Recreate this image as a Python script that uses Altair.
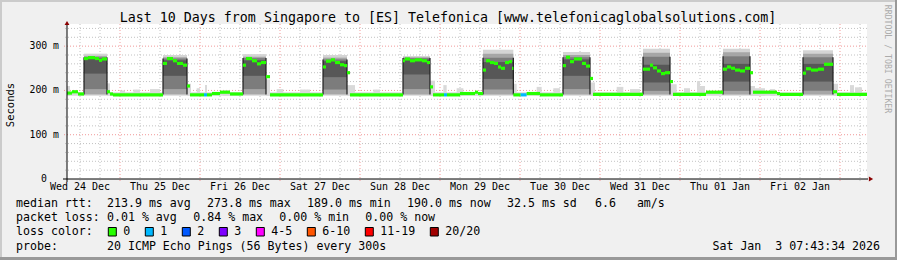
import altair as alt
import pandas as pd

MONO = "DejaVu Sans Mono"
NB = "\u00a0"

# ---------------- data ----------------
T_START, T_END = 8.1, 248.1          # hours since Wed 24 Dec 00:00
Y_MAX = 350                           # milliseconds

DAY_LABELS = ["Wed 24 Dec", "Thu 25 Dec", "Fri 26 Dec", "Sat 27 Dec", "Sun 28 Dec",
              "Mon 29 Dec", "Tue 30 Dec", "Wed 31 Dec", "Thu 01 Jan", "Fri 02 Jan"]
LABEL_HOURS = [12, 36, 60, 84, 108, 132, 156, 180, 204, 228]
MAJOR_X = [24, 48, 72, 96, 120, 144, 168, 192, 216, 240]
MINOR_X = [12, 18, 30, 36, 42, 54, 60, 66, 78, 84, 90, 102, 108, 114, 126, 132, 138,
           150, 156, 162, 174, 180, 186, 198, 204, 210, 222, 228, 234, 246]
MAJOR_Y = [100, 200, 300]
MINOR_Y = [20, 40, 60, 80, 120, 140, 160, 180, 220, 240, 260, 280, 320, 340]
Y_TICKS = [0, 100, 200, 300]
Y_TICK_LABELS = ["0", "100 m", "200 m", "300 m"]

# median rtt (step segments: start hour, value in ms)
MED_START = [8.1, 9.6, 11.4, 13.2, 14.4, 16.5, 17.7, 18.6, 20.1, 21.0, 21.9,
             36.9, 38.1, 39.9, 41.1, 42.9, 44.1, 45.0, 49.2, 50.1, 51.6, 54.0, 57.0,
             60.9, 61.8, 63.6, 65.1, 66.3, 67.8, 69.0,
             84.9, 85.8, 87.3, 88.5, 90.0, 91.2, 92.1, 93.0,
             108.9, 109.5, 111.0, 112.5, 114.6, 116.1, 117.0, 117.9, 121.2, 122.1, 126.0, 130.5, 131.4,
             132.9, 133.8, 135.0, 136.2, 137.4, 138.3, 139.5, 140.7, 141.6, 142.0, 144.2, 146.0, 150.0,
             156.9, 157.8, 159.0, 160.2, 162.6, 163.8, 165.0, 165.9,
             180.9, 183.0, 183.9, 185.1, 186.3, 187.5, 189.0, 189.9,
             199.8, 204.9, 206.1, 207.3, 208.5, 210.0, 211.5, 213.0, 213.9, 221.1, 222.0,
             228.9, 229.8, 231.3, 233.4, 235.2, 237.9, 239.1]
MED_VALUE = [194, 197, 192, 272, 274, 272, 268, 271, 197, 192, 190,
             261, 272, 267, 261, 257, 210, 190, 190, 190, 193, 196, 192,
             257, 272, 267, 260, 263, 231, 190,
             253, 266, 269, 263, 258, 256, 240, 190,
             267, 271, 267, 269, 267, 263, 208, 190, 190, 190, 193, 196, 193,
             246, 267, 263, 261, 253, 250, 263, 265, 250, 190, 190, 193, 190,
             256, 275, 265, 271, 261, 255, 227, 191,
             248, 257, 251, 244, 238, 240, 220, 191,
             196, 248, 253, 250, 246, 244, 250, 240, 196, 193, 191,
             239, 249, 246, 248, 259, 197, 191]
LOSS1_STARTS = [49.2, 121.2, 144.2]   # segments with 1 lost ping

# smoke during the daily high periods
BLOCK_START = [13.2, 36.9, 60.9, 84.9, 108.9, 132.9, 156.9, 180.9, 204.9, 228.9]
BLOCK_END = [20.1, 44.1, 67.8, 92.1, 117.0, 142.0, 165.0, 189.0, 213.0, 237.9]
BLOCK_MAX = [283, 280, 282, 280, 278, 292, 287, 294, 294, 291]
BLOCK_Q90 = [278, 275, 276, 274, 275, 283, 280, 285, 286, 283]
BLOCK_Q75 = [275, 272, 273, 270, 273, 274, 275, 276, 277, 275]
BLOCK_Q60 = [272, 268, 268, 266, 270, 264, 270, 258, 260, 260]
BLOCK_Q25 = [238, 233, 233, 230, 236, 226, 233, 218, 220, 220]
BLOCK_Q10 = [203, 203, 203, 202, 203, 202, 203, 199, 199, 199]
BLOCK_MIN = [191, 191, 191, 191, 191, 191, 191, 191, 191, 191]

# light smoke during the low periods
LOW_START = [8.1, 8.1, 20.1, 24.0, 28.0, 33.0, 44.1, 47.0, 49.5, 55.0, 67.8, 71.0, 78.0,
             92.1, 100.0, 117.0, 121.0, 125.0, 142.0, 149.0, 154.0, 165.0, 173.0, 177.0,
             189.0, 193.2, 197.1, 198.0, 213.0, 214.5, 219.0, 237.9, 243.0, 244.5]
LOW_END = [248.1, 9.0, 21.0, 25.5, 30.0, 36.0, 45.3, 48.0, 50.1, 57.0, 69.0, 73.0, 81.0,
           94.5, 102.0, 118.5, 122.0, 127.0, 143.0, 150.5, 156.0, 166.5, 175.0, 180.0,
           191.0, 195.0, 198.0, 199.5, 214.5, 217.5, 220.5, 239.4, 244.2, 246.6]
LOW_TOP = [196, 210, 216, 200, 202, 203, 215, 205, 212, 200, 225, 203, 202,
           212, 202, 222, 212, 205, 215, 208, 205, 218, 208, 203,
           214, 205, 221, 210, 210, 205, 203, 215, 212, 207]
LOW_BASE = 188

TITLE = "Last 10 Days from Singapore to [ES] Telefonica [www.telefonicaglobalsolutions.com]"
RTT_ITEMS = ["median rtt:", "213.9 ms avg", "273.8 ms max", "189.0 ms min",
             "190.0 ms now", "32.5 ms sd", "6.6   am/s"]
LOSS_ITEMS = ["packet loss:", "0.01 % avg", "0.84 % max", "0.00 % min", "0.00 % now"]
LOSS_LABELS = ["0", "1", "2", "3", "4-5", "6-10", "11-19", "20/20"]
LOSS_COLORS = ["#26ff00", "#00b8ff", "#0059ff", "#7e00ff", "#ff00ff", "#ff5500", "#ff0000", "#a10000"]
PROBE_ITEMS = ["probe:", "20 ICMP Echo Pings (56 Bytes) every 300s"]
STAMP = "Sat Jan  3 07:43:34 2026"
Y_TITLE = "Seconds"
SIDE_TEXT = "RRDTOOL / TOBI OETIKER"

# ---------------- layout (pixels relative to plot origin) ----------------
W, H = 800, 155
PAD = {"left": 67, "top": 24, "right": 30, "bottom": 81}
ROW_Y = [180, 194.3, 208.3, 222.7]
RTT_X = [-51, 40, 140, 240, 340, 440, 528]
LOSS_X = [-51, 40, 126.3, 212.3, 298.3]
Y_LABEL_RIGHT = [-20, -8, -8, -8]
CHAR_W = 7.0
MED_HALF = 3.6   # half thickness of the median bar, in ms

xs = alt.Scale(domain=[T_START, T_END], nice=False, zero=False)
ys = alt.Scale(domain=[0, Y_MAX], nice=False, zero=False)


def nb(s):
    return s.replace(" ", NB)


one = pd.DataFrame({"k": [0]})

# grid
grid_minor_v = alt.Chart(pd.DataFrame({"h": MINOR_X})).mark_rule(
    color="#c2c2c2", strokeDash=[1, 2], strokeWidth=1
).encode(x=alt.X("h:Q", scale=xs, axis=None), y=alt.value(0), y2=alt.value(157))

grid_major_v = alt.Chart(pd.DataFrame({"h": MAJOR_X})).mark_rule(
    color="#f19a9a", strokeDash=[1, 2], strokeWidth=1
).encode(x=alt.X("h:Q", scale=xs, axis=None), y=alt.value(0), y2=alt.value(158))

grid_minor_h = alt.Chart(pd.DataFrame({"v": MINOR_Y})).mark_rule(
    color="#c2c2c2", strokeDash=[1, 2], strokeWidth=1
).encode(y=alt.Y("v:Q", scale=ys, axis=None), x=alt.value(-2), x2=alt.value(W))

grid_major_h = alt.Chart(pd.DataFrame({"v": MAJOR_Y})).mark_rule(
    color="#f19a9a", strokeDash=[1, 2], strokeWidth=1
).encode(y=alt.Y("v:Q", scale=ys, axis=None), x=alt.value(-3), x2=alt.value(W))

# axis labels (placed through the scales)
x_labels = alt.Chart(pd.DataFrame({"h": LABEL_HOURS, "t": DAY_LABELS})).mark_text(
    align="center", baseline="middle", font=MONO, fontSize=10, color="#000000"
).encode(x=alt.X("h:Q", scale=xs, axis=None), y=alt.value(H + 7.5), text="t:N")

y_labels = alt.Chart(pd.DataFrame({"v": Y_TICKS, "t": [nb(s) for s in Y_TICK_LABELS],
                                   "px": Y_LABEL_RIGHT})).mark_text(
    align="right", baseline="middle", font=MONO, fontSize=9.8, color="#000000"
).encode(y=alt.Y("v:Q", scale=ys, axis=None), x=alt.X("px:Q", scale=None), text="t:N")

# low smoke
low_df = pd.DataFrame({"s": LOW_START, "e": LOW_END, "hi": LOW_TOP})
low_df["lo"] = LOW_BASE
low_smoke = alt.Chart(low_df).mark_rect(color="#d9d9d9").encode(
    x=alt.X("s:Q", scale=xs, axis=None), x2="e:Q",
    y=alt.Y("lo:Q", scale=ys, axis=None), y2="hi:Q")

# block smoke (nested bands, outer first)
rows = []
bands = [("#d4d4d4", BLOCK_MIN, BLOCK_MAX), ("#a6a6a6", BLOCK_MIN, BLOCK_Q90),
         ("#7c7c7c", BLOCK_Q10, BLOCK_Q75), ("#575757", BLOCK_Q25, BLOCK_Q60)]
for col, lo, hi in bands:
    for i in range(len(BLOCK_START)):
        rows.append({"s": BLOCK_START[i], "e": BLOCK_END[i], "lo": lo[i], "hi": hi[i], "col": col})
block_df = pd.DataFrame(rows)
block_smoke = alt.Chart(block_df).mark_rect().encode(
    x=alt.X("s:Q", scale=xs, axis=None), x2="e:Q",
    y=alt.Y("lo:Q", scale=ys, axis=None), y2="hi:Q",
    color=alt.Color("col:N", scale=None))

edge_rows = []
for i in range(len(BLOCK_START)):
    edge_rows.append({"h": BLOCK_START[i], "lo": BLOCK_MIN[i], "hi": BLOCK_Q75[i]})
    edge_rows.append({"h": BLOCK_END[i], "lo": BLOCK_MIN[i], "hi": BLOCK_Q75[i]})
edges = alt.Chart(pd.DataFrame(edge_rows)).mark_rule(color="#1e1e1e", strokeWidth=1.2).encode(
    x=alt.X("h:Q", scale=xs, axis=None),
    y=alt.Y("lo:Q", scale=ys, axis=None), y2="hi:Q")

# median bars
med_df = pd.DataFrame({"s": MED_START, "v": MED_VALUE})
med_df["e"] = MED_START[1:] + [T_END]
med_df["lo"] = med_df["v"] - MED_HALF
med_df["hi"] = med_df["v"] + MED_HALF
med_df["loss"] = ["1" if s in LOSS1_STARTS else "0" for s in MED_START]
median = alt.Chart(med_df).mark_rect().encode(
    x=alt.X("s:Q", scale=xs, axis=None), x2="e:Q",
    y=alt.Y("lo:Q", scale=ys, axis=None), y2="hi:Q",
    color=alt.Color("loss:N", scale=alt.Scale(domain=["0", "1"], range=[LOSS_COLORS[0], LOSS_COLORS[1]]),
                    legend=None))

# axes lines and arrows
x_line = alt.Chart(one).mark_rule(color="#000000", strokeWidth=1).encode(
    x=alt.value(-4), x2=alt.value(W + 1), y=alt.value(H))
y_line = alt.Chart(one).mark_rule(color="#000000", strokeWidth=1).encode(
    x=alt.value(0), y=alt.value(H + 3), y2=alt.value(1))
arrow_up = alt.Chart(one).mark_point(shape="triangle-up", filled=True, color="#8b0000",
                                     size=24, opacity=1).encode(x=alt.value(0), y=alt.value(-1))
arrow_right = alt.Chart(one).mark_point(shape="triangle-right", filled=True, color="#8b0000",
                                        size=24, opacity=1).encode(x=alt.value(W + 4), y=alt.value(H))


# borders
def border(x1, x2, y1, y2, col):
    return alt.Chart(one).mark_rect(color=col).encode(
        x=alt.value(x1), x2=alt.value(x2), y=alt.value(y1), y2=alt.value(y2))


borders = [border(-67, -65, -24, 236, "#cbcbcb"), border(-67, 830, -24, -22, "#cbcbcb"),
           border(828, 830, -24, 236, "#999999"), border(-67, 830, 233, 236, "#999999")]

# legend texts
txt = []
for t, x in zip(RTT_ITEMS, RTT_X):
    txt.append({"x": x, "y": ROW_Y[0], "t": nb(t)})
for t, x in zip(LOSS_ITEMS, LOSS_X):
    txt.append({"x": x, "y": ROW_Y[1], "t": nb(t)})
txt.append({"x": -51, "y": ROW_Y[2], "t": nb("loss color:")})
box_rows = []
bx = 41.3
for lab, col in zip(LOSS_LABELS, LOSS_COLORS):
    box_rows.append({"bx": bx, "bx2": bx + 8, "col": col})
    txt.append({"x": bx + 15, "y": ROW_Y[2], "t": lab})
    bx += 30 + CHAR_W * len(lab)
for t, x in zip(PROBE_ITEMS, [-51, 40]):
    txt.append({"x": x, "y": ROW_Y[3], "t": nb(t)})

legend_text = alt.Chart(pd.DataFrame(txt)).mark_text(
    align="left", baseline="middle", font=MONO, fontSize=11.6, color="#000000"
).encode(x=alt.X("x:Q", scale=None), y=alt.Y("y:Q", scale=None), text="t:N")

legend_boxes = alt.Chart(pd.DataFrame(box_rows)).mark_rect(stroke="#000000", strokeWidth=1).encode(
    x=alt.X("bx:Q", scale=None), x2="bx2:Q", y=alt.value(203.5), y2=alt.value(212),
    fill=alt.Fill("col:N", scale=None))

stamp = alt.Chart(one).mark_text(align="right", baseline="middle", font=MONO, fontSize=11.6,
                                 color="#000000", text=nb(STAMP)).encode(
    x=alt.value(813), y=alt.value(ROW_Y[3]))
title = alt.Chart(one).mark_text(align="center", baseline="middle", font=MONO, fontSize=13.3,
                                 color="#000000", text=TITLE).encode(
    x=alt.value(381), y=alt.value(-6))
ytitle = alt.Chart(one).mark_text(align="center", baseline="middle", font=MONO, fontSize=10.5,
                                  color="#000000", angle=270, text=Y_TITLE).encode(
    x=alt.value(-56), y=alt.value(81))
side = alt.Chart(one).mark_text(align="center", baseline="middle", font=MONO, fontSize=8.2,
                                color="#ababab", angle=90, text=nb(SIDE_TEXT)).encode(
    x=alt.value(820), y=alt.value(35))

chart = alt.layer(
    grid_minor_v, grid_major_v, grid_minor_h, grid_major_h,
    low_smoke, block_smoke, edges, median,
    x_line, y_line, arrow_up, arrow_right,
    *borders,
    x_labels, y_labels,
    legend_text, legend_boxes, stamp, title, ytitle, side
).properties(
    width=W, height=H, padding=PAD,
    autosize=alt.AutoSizeParams(type="none"),
    background="#f0f0f0"
).configure_view(fill="#ffffff", strokeWidth=0)

chart.save("out.html", embed_options={"renderer": "svg", "actions": False})
